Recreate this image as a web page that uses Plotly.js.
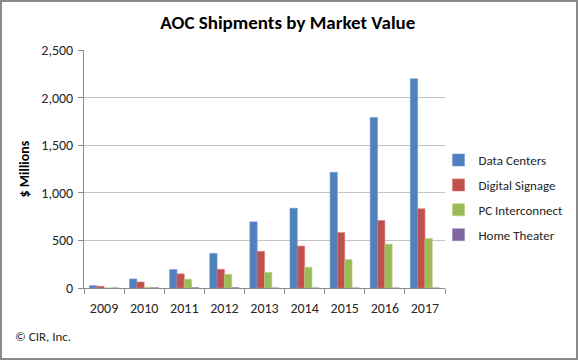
<!DOCTYPE html>
<html>
<head>
<meta charset="utf-8">
<script src="https://cdn.plot.ly/plotly-3.0.1.min.js"></script>
<style>
html,body{margin:0;padding:0;background:#fff;}
#wrap{position:relative;width:578px;height:360px;}
#chart{position:absolute;left:0;top:0;width:578px;height:360px;}
#frame{position:absolute;left:0;top:0;width:574px;height:356px;border:2px solid #8a8a8a;pointer-events:none;}
</style>
</head>
<body>
<div id="wrap"><div id="chart"></div><div id="frame"></div></div>
<script>
const years = ['2009','2010','2011','2012','2013','2014','2015','2016','2017'];
const dataCenters = [25, 95, 194, 364, 695, 838, 1215, 1790, 2198];
const digitalSignage = [18, 63, 148, 196, 385, 440, 582, 709, 832];
const pcInterconnect = [0, 7, 92, 143, 164, 217, 298, 460, 519];
const homeTheater = [0, 3, 4, 4, 0, 0, 0, 0, 0];
const seriesNames = ['Data Centers', 'Digital Signage', 'PC Interconnect', 'Home Theater'];
const seriesColors = ['#4F81BD', '#C0504D', '#9BBB59', '#8064A2'];
const borderColors = ['#6F9BD1', '#D27471', '#B3CD7A', '#9A82BA'];
const seriesValues = [dataCenters, digitalSignage, pcInterconnect, homeTheater];

const font = 'Calibri, Carlito, Lato, "Liberation Sans", sans-serif';

const traces = seriesValues.map((vals, i) => ({
  type: 'bar',
  name: seriesNames[i],
  x: years,
  y: vals,
  legendgroup: 'g' + i,
  marker: {color: seriesColors[i], line: {color: borderColors[i], width: 0.6}},
  hoverinfo: 'x+y+name'
}));

const layout = {
  width: 578,
  height: 360,
  margin: {l: 84, r: 133, t: 50, b: 72, autoexpand: false},
  paper_bgcolor: '#fff',
  plot_bgcolor: '#fff',
  barmode: 'group',
  bargap: 0.27,
  bargroupgap: 0,
  font: {family: font, size: 14, color: '#262626'},
  title: {
    text: '<b>AOC Shipments by Market Value</b>',
    font: {family: font, size: 19, color: '#000'},
    x: 0.498, xanchor: 'center', y: 0.937, yanchor: 'middle'
  },
  xaxis: {
    type: 'category',
    showline: true, linecolor: '#8c8c8c', linewidth: 1,
    ticks: 'outside', tickson: 'boundaries', ticklen: 5, tickcolor: '#8c8c8c',
    ticklabelstandoff: 7,
    tickfont: {family: font, size: 14, color: '#262626'},
    showgrid: false,
    zeroline: false
  },
  yaxis: {
    range: [0, 2500],
    dtick: 500,
    tickformat: ',d',
    showline: true, linecolor: '#8c8c8c', linewidth: 1,
    ticks: 'outside', ticklen: 5, tickcolor: '#8c8c8c',
    ticklabelstandoff: 2,
    tickfont: {family: font, size: 14, color: '#262626'},
    gridcolor: '#c4c4c4', gridwidth: 1,
    zeroline: false,
    title: {text: '<b>$ Millions</b>', font: {family: font, size: 14, color: '#000'}, standoff: 8}
  },
  legend: {
    x: 0.982, xanchor: 'left',
    y: 0.38, yanchor: 'middle',
    font: {family: font, size: 13, color: '#262626'},
    traceorder: 'grouped',
    tracegroupgap: 5,
    itemwidth: 30,
    bgcolor: 'rgba(0,0,0,0)'
  },
  annotations: [{
    text: '© CIR, Inc.',
    xref: 'paper', yref: 'paper',
    x: -0.197, xanchor: 'left',
    y: -0.205, yanchor: 'middle',
    showarrow: false,
    font: {family: font, size: 13, color: '#262626'}
  }]
};

Plotly.newPlot('chart', traces, layout, {displayModeBar: false, staticPlot: true});
</script>
</body>
</html>
